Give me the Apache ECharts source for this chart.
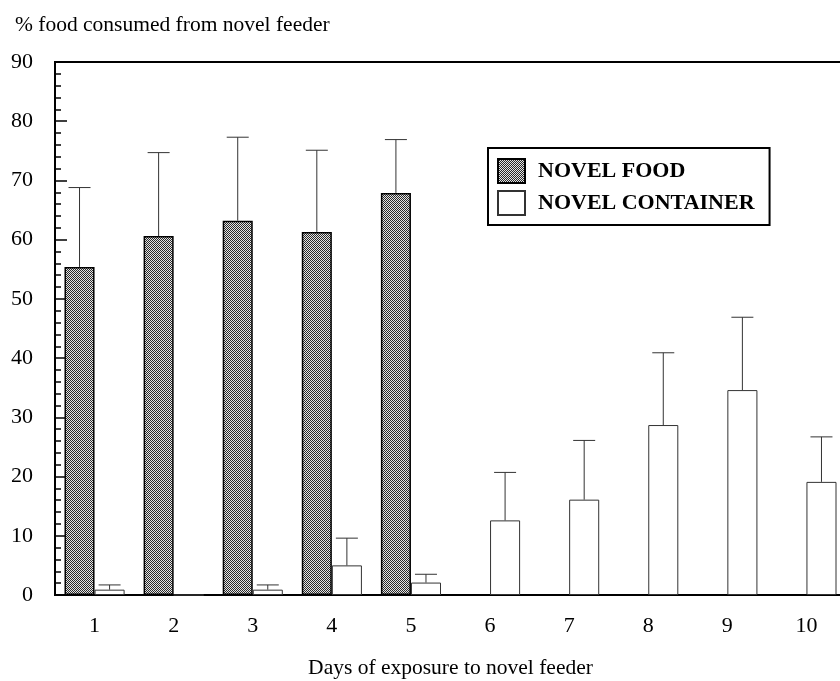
<!DOCTYPE html>
<html>
<head>
<meta charset="utf-8">
<script src="https://cdn.jsdelivr.net/npm/echarts@6/dist/echarts.min.js"></script>
<style>
  html, body { margin: 0; padding: 0; background: #fff; }
  #chart { width: 840px; height: 681px; }
</style>
</head>
<body>
<div id="chart"></div>
<script>
// Days of exposure
const days = ['1', '2', '3', '4', '5', '6', '7', '8', '9', '10'];
// Mean % food consumed from the novel feeder, with standard errors
const novelFoodMean = [55.4, 60.6, 63.2, 61.3, 67.9, null, null, null, null, null];
const novelFoodSE = [13.4, 14.1, 14.1, 13.8, 9.0, null, null, null, null, null];
const novelContainerMean = [0.9, 0, 0.9, 5.0, 2.1, 12.6, 16.1, 28.7, 34.6, 19.1];
const novelContainerSE = [0.8, 0, 0.8, 4.6, 1.4, 8.1, 10.0, 12.2, 12.3, 7.6];
const yTicks = [0, 10, 20, 30, 40, 50, 60, 70, 80, 90];

const FONT = '"Liberation Serif", "DejaVu Serif", serif';
const BAR_FRAC = 0.38; // each bar's share of a category band

// Fine halftone fill for the novel food bars
function halftone() {
  const c = document.createElement('canvas');
  c.width = 2; c.height = 2;
  const g = c.getContext('2d');
  g.fillStyle = '#e4e4e4'; g.fillRect(0, 0, 2, 2);
  g.fillStyle = '#2a2a2a'; g.fillRect(0, 0, 1, 1); g.fillRect(1, 1, 1, 1);
  return c;
}
const foodFill = { image: halftone(), repeat: 'repeat' };

// Error bar series: vertical whisker from the mean to mean + SE, with a cap
function errorSeries(means, ses, side) {
  const data = [];
  means.forEach((m, i) => {
    if (m != null && ses[i] != null && ses[i] > 0) data.push([i, m, m + ses[i]]);
  });
  return {
    type: 'custom',
    z: 5,
    silent: true,
    data: data,
    encode: { x: 0, y: [1, 2] },
    renderItem: function (params, api) {
      const i = api.value(0);
      const band = api.size([1, 0])[0];
      const dx = side * band * BAR_FRAC / 2;
      const lo = api.coord([i, api.value(1)]);
      const hi = api.coord([i, api.value(2)]);
      const x = lo[0] + dx;
      const cap = 11;
      const style = { stroke: '#333', lineWidth: 1 };
      return {
        type: 'group',
        children: [
          { type: 'line', shape: { x1: x, y1: lo[1], x2: x, y2: hi[1] }, style: style },
          { type: 'line', shape: { x1: x - cap, y1: hi[1], x2: x + cap, y2: hi[1] }, style: style }
        ]
      };
    }
  };
}

const chart = echarts.init(document.getElementById('chart'), null, { renderer: 'canvas' });

chart.setOption({
  animation: false,
  backgroundColor: '#fff',
  textStyle: { fontFamily: FONT, color: '#000' },
  title: {
    text: '% food consumed from novel feeder',
    left: 10,
    top: 9,
    textStyle: { fontFamily: FONT, fontSize: 21.5, fontWeight: 'normal', color: '#000' }
  },
  legend: {
    orient: 'vertical',
    left: 488,
    top: 148,
    icon: 'rect',
    itemWidth: 27,
    itemHeight: 24,
    itemGap: 6,
    padding: [10, 15, 9, 9],
    borderColor: '#000',
    borderWidth: 2,
    backgroundColor: '#fff',
    textStyle: { fontFamily: FONT, fontSize: 22, fontWeight: 'bold', color: '#000', padding: [0, 0, 0, 8] },
    data: ['NOVEL FOOD', 'NOVEL CONTAINER']
  },
  grid: {
    left: 55,
    top: 62,
    right: -6,
    bottom: 86,
    outerBoundsMode: 'none',
    containLabel: false,
    show: true,
    borderColor: '#000',
    borderWidth: 2,
    backgroundColor: 'transparent'
  },
  xAxis: {
    type: 'category',
    data: days,
    boundaryGap: true,
    name: 'Days of exposure to novel feeder',
    nameLocation: 'middle',
    nameGap: 62,
    nameTextStyle: { fontFamily: FONT, fontSize: 21.5, color: '#000' },
    axisLine: { lineStyle: { color: '#000', width: 2 } },
    axisTick: { inside: true, length: 12, lineStyle: { color: '#333', width: 1 } },
    axisLabel: { fontFamily: FONT, fontSize: 22, color: '#000', margin: 20 },
    splitLine: { show: false }
  },
  yAxis: {
    type: 'value',
    min: yTicks[0],
    max: yTicks[yTicks.length - 1],
    interval: yTicks[1] - yTicks[0],
    axisLine: { show: true, lineStyle: { color: '#000', width: 2 } },
    axisTick: { show: true, inside: true, length: 12, lineStyle: { color: '#000', width: 1.5 } },
    minorTick: { show: true, splitNumber: 5, length: 6, lineStyle: { color: '#000', width: 1.5 } },
    axisLabel: { fontFamily: FONT, fontSize: 22, color: '#000', margin: 22 },
    splitLine: { show: false }
  },
  series: [
    {
      name: 'NOVEL FOOD',
      type: 'bar',
      data: novelFoodMean,
      barWidth: (BAR_FRAC * 100) + '%',
      barGap: '0%',
      itemStyle: { color: foodFill, borderColor: '#000', borderWidth: 1.5 }
    },
    {
      name: 'NOVEL CONTAINER',
      type: 'bar',
      data: novelContainerMean,
      barWidth: (BAR_FRAC * 100) + '%',
      barGap: '0%',
      itemStyle: { color: '#fff', borderColor: '#333', borderWidth: 1 }
    },
    errorSeries(novelFoodMean, novelFoodSE, -1),
    errorSeries(novelContainerMean, novelContainerSE, 1)
  ]
});
</script>
</body>
</html>
